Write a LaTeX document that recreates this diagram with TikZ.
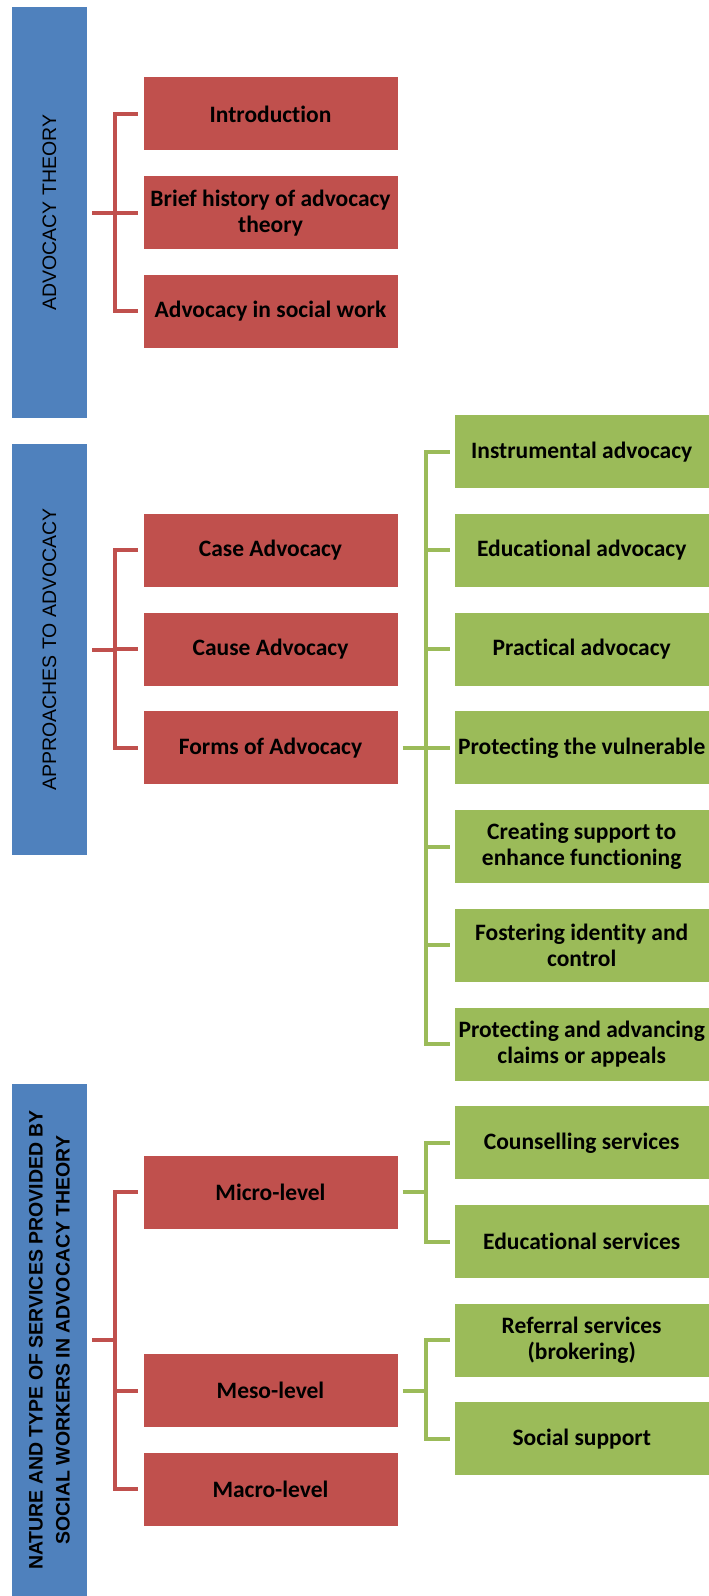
\documentclass[tikz,border=0pt]{standalone}
\usepackage{fontspec}
\setmainfont{Carlito}[Ligatures={NoCommon,NoRare}]
\newfontfamily\headfont{Liberation Sans}

\definecolor{boxblue}{HTML}{4F81BD}
\definecolor{boxred}{HTML}{C0504D}
\definecolor{boxgreen}{HTML}{9BBB59}

\begin{document}
\begin{tikzpicture}[x=1pt,y=-1pt,
        title/.style={fill=boxblue, rotate=90, minimum height=75pt, inner sep=0pt, align=center,
                font=\headfont\fontsize{19.5}{27}\selectfont},
        topic/.style={fill=boxred, minimum width=254pt, minimum height=73pt,
                inner sep=0pt, align=center, font=\bfseries\fontsize{23.5}{26}\selectfont},
        sub/.style={topic, fill=boxgreen},
        redlink/.style={boxred, line width=4pt},
        greenlink/.style={boxgreen, line width=4pt}]
        \useasboundingbox (0,0) rectangle (709,1596);

        % the three headings
        \node[title, minimum width=411pt] (theory) at (49.5,212.7) {ADVOCACY THEORY};
        \node[title, minimum width=411pt] (approaches) at (49.5,649.5) {APPROACHES TO ADVOCACY};
        \node[title, minimum width=512pt, font=\headfont\bfseries\fontsize{19.5}{27}\selectfont] (services) at (49.5,1340)
                {NATURE AND TYPE OF SERVICES PROVIDED BY\\SOCIAL WORKERS IN ADVOCACY THEORY};

        % red topics
        \node[topic] (intro) at (270.5,113.9) {Introduction};
        \node[topic] (history) at (270.5,212.6) {Brief history of advocacy\\theory};
        \node[topic] (socialwork) at (270.5,311.3) {Advocacy in social work};

        \node[topic] (caseadv) at (270.5,550.3) {Case Advocacy};
        \node[topic] (causeadv) at (270.5,649.0) {Cause Advocacy};
        \node[topic] (forms) at (270.5,747.8) {Forms of Advocacy};

        \node[topic] (micro) at (270.5,1192.2) {Micro-level};
        \node[topic] (meso) at (270.5,1390.5) {Meso-level};
        \node[topic] (macro) at (270.5,1489.2) {Macro-level};

        % green sub-topics
        \node[sub] (instrumental) at (581.7,451.6) {Instrumental advocacy};
        \node[sub] (educational) at (581.7,550.3) {Educational advocacy};
        \node[sub] (practical) at (581.7,649.0) {Practical advocacy};
        \node[sub] (vulnerable) at (581.7,747.8) {Protecting the vulnerable};
        \node[sub] (functioning) at (581.7,846.6) {Creating support to\\enhance functioning};
        \node[sub] (identity) at (581.7,945.4) {Fostering identity and\\control};
        \node[sub] (claims) at (581.7,1044.2) {Protecting and advancing\\claims or appeals};

        \node[sub] (counselling) at (581.7,1142.8) {Counselling services};
        \node[sub] (eduservices) at (581.7,1241.5) {Educational services};
        \node[sub] (referral) at (581.7,1340.2) {Referral services\\(brokering)};
        \node[sub] (support) at (581.7,1438.9) {Social support};

        % brackets
        \draw[redlink] ([xshift=5pt]theory.south) -- ++(23,0) coordinate (j1);
        \foreach \n in {intro,history,socialwork}
                \draw[redlink] (j1) |- ([xshift=-5pt]\n.west);

        \draw[redlink] ([xshift=5pt]approaches.south) -- ++(23,0) coordinate (j2);
        \foreach \n in {caseadv,causeadv,forms}
                \draw[redlink] (j2) |- ([xshift=-5pt]\n.west);

        \draw[redlink] ([xshift=5pt]services.south) -- ++(23,0) coordinate (j3);
        \foreach \n in {micro,meso,macro}
                \draw[redlink] (j3) |- ([xshift=-5pt]\n.west);

        \draw[greenlink] ([xshift=5pt]forms.east) -- ++(23,0) coordinate (j4);
        \foreach \n in {instrumental,educational,practical,vulnerable,functioning,identity,claims}
                \draw[greenlink] (j4) |- ([xshift=-5pt]\n.west);

        \draw[greenlink] ([xshift=5pt]micro.east) -- ++(23,0) coordinate (j5);
        \foreach \n in {counselling,eduservices}
                \draw[greenlink] (j5) |- ([xshift=-5pt]\n.west);

        \draw[greenlink] ([xshift=5pt]meso.east) -- ++(23,0) coordinate (j6);
        \foreach \n in {referral,support}
                \draw[greenlink] (j6) |- ([xshift=-5pt]\n.west);

\end{tikzpicture}
\end{document}
